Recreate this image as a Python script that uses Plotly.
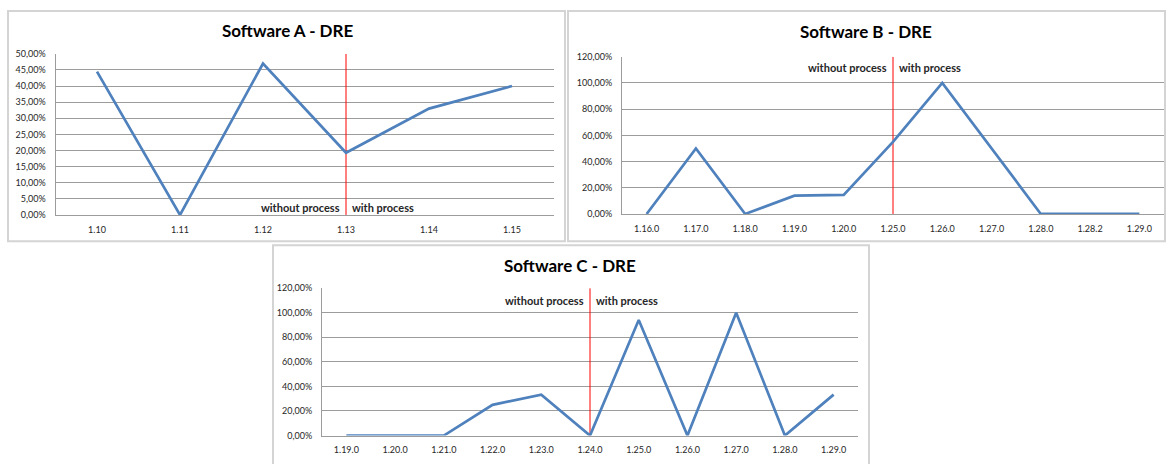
import plotly.graph_objects as go

W, H = 1166, 464
OFF = 0

# ---------------- data ----------------
cats_A = ["1.10", "1.11", "1.12", "1.13", "1.14", "1.15"]
dre_A = [44.5, 0.0, 47.0, 19.3, 33.0, 40.0]
split_A = "1.13"
yvals_A = [0, 5, 10, 15, 20, 25, 30, 35, 40, 45, 50]
ytext_A = ["0,00%", "5,00%", "10,00%", "15,00%", "20,00%", "25,00%",
           "30,00%", "35,00%", "40,00%", "45,00%", "50,00%"]

cats_B = ["1.16.0", "1.17.0", "1.18.0", "1.19.0", "1.20.0", "1.25.0",
          "1.26.0", "1.27.0", "1.28.0", "1.28.2", "1.29.0"]
dre_B = [0.0, 50.0, 0.0, 14.0, 14.5, 55.0, 100.0, 50.0, 0.0, 0.0, 0.0]
split_B = "1.25.0"

cats_C = ["1.19.0", "1.20.0", "1.21.0", "1.22.0", "1.23.0", "1.24.0",
          "1.25.0", "1.26.0", "1.27.0", "1.28.0", "1.29.0"]
dre_C = [0.0, 0.0, 0.0, 25.0, 33.3, 0.0, 94.0, 0.0, 100.0, 0.0, 33.3]
split_C = "1.24.0"

yvals_BC = [0, 20, 40, 60, 80, 100, 120]
ytext_BC = ["0,00%", "20,00%", "40,00%", "60,00%", "80,00%", "100,00%", "120,00%"]

titles = ["Software A - DRE", "Software B - DRE", "Software C - DRE"]
label_before = "without process"
label_after = "with process"

# ---------------- layout helpers ----------------
FONT = "Lato, 'Open Sans', sans-serif"
BLUE = "#4f81bd"
RED = "#ff0000"
GRID = "#9c9c9c"
TXT = "#262626"


def fx(px):
    return (px - OFF) / W


def fy(py):
    return 1 - (py - OFF) / H


PAGE_R = OFF + W

panels = [
    dict(cats=cats_A, vals=dre_A, split=split_A, yv=yvals_A, yt=ytext_A,
         area=(55.5, 553.5, 49, 214), box=(8, 565, 5, 241), title=titles[0],
         tpos=(287, 25), ann_y=0.045),
    dict(cats=cats_B, vals=dre_B, split=split_B, yv=yvals_BC, yt=ytext_BC,
         area=(622, 1164, 52, 213), box=(568, 1165, 5, 241), title=titles[1],
         tpos=(866, 26), ann_y=0.933),
    dict(cats=cats_C, vals=dre_C, split=split_C, yv=yvals_BC, yt=ytext_BC,
         area=(322, 858, 289, 440), box=(273, 869, 245, 480), title=titles[2],
         tpos=(570, 266), ann_y=0.916),
]

fig = go.Figure()
shapes = []
annotations = []
layout_axes = {}

for i, p in enumerate(panels, start=1):
    xa = "x" if i == 1 else f"x{i}"
    ya = "y" if i == 1 else f"y{i}"
    xkey = "xaxis" if i == 1 else f"xaxis{i}"
    ykey = "yaxis" if i == 1 else f"yaxis{i}"
    l, r, t, b = p["area"]
    n = len(p["cats"])
    ymax = max(p["yv"])

    step = (r - l) / n
    r_vis = min(r, PAGE_R)
    xr_hi = -0.5 + (r_vis - l) / step

    fig.add_trace(go.Scatter(
        x=[p["split"], p["split"]], y=[0, ymax], mode="lines",
        line=dict(color=RED, width=1), xaxis=xa, yaxis=ya,
        showlegend=False, hoverinfo="skip"))

    fig.add_trace(go.Scatter(
        x=p["cats"], y=p["vals"], mode="lines",
        line=dict(color=BLUE, width=2.7), xaxis=xa, yaxis=ya,
        showlegend=False, hoverinfo="x+y", cliponaxis=False))

    layout_axes[xkey] = dict(
        domain=[fx(l), min(1, fx(r_vis))], anchor=ya, type="category",
        categoryorder="array", categoryarray=p["cats"],
        range=[-0.5, xr_hi], showgrid=False, zeroline=False,
        showline=True, linecolor=GRID, linewidth=1, ticks="",
        tickfont=dict(family=FONT, size=9, color=TXT),
        ticklabelstandoff=6, fixedrange=True)
    layout_axes[ykey] = dict(
        domain=[fy(b), fy(t)], anchor=xa, range=[0, ymax],
        tickvals=p["yv"], ticktext=p["yt"], showgrid=True,
        gridcolor=GRID, gridwidth=1, zeroline=False, showline=True,
        linecolor=GRID, linewidth=1, ticks="",
        tickfont=dict(family=FONT, size=9, color=TXT),
        ticklabelstandoff=7, fixedrange=True)

    bl, br, bt, bb = p["box"]
    shapes.append(dict(type="rect", xref="paper", yref="paper",
                       x0=fx(bl), x1=fx(br), y0=fy(bb), y1=fy(bt),
                       line=dict(color="#d4d4d4", width=2), layer="below"))
    si = p["cats"].index(p["split"])
    annotations.append(dict(x=si, y=p["ann_y"], xref=xa, yref=f"{ya} domain",
                            text=f"<b>{label_before}</b>", showarrow=False,
                            xanchor="right", yanchor="middle", xshift=-4,
                            font=dict(family=FONT, size=11, color=TXT)))
    annotations.append(dict(x=si, y=p["ann_y"], xref=xa, yref=f"{ya} domain",
                            text=f"<b>{label_after}</b>", showarrow=False,
                            xanchor="left", yanchor="middle", xshift=4,
                            font=dict(family=FONT, size=11, color=TXT)))
    tx, ty = p["tpos"]
    annotations.append(dict(x=fx(tx), y=fy(ty), xref="paper", yref="paper",
                            text=f"<b>{p['title']}</b>", showarrow=False,
                            xanchor="center", yanchor="middle",
                            font=dict(family=FONT, size=17, color="#000000")))

fig.update_layout(
    width=W, height=H, margin=dict(l=0, r=0, t=0, b=0),
    paper_bgcolor="white", plot_bgcolor="white",
    shapes=shapes, annotations=annotations, showlegend=False,
    **layout_axes)

fig.write_html(
    "out.html", config={"displayModeBar": False},
    post_script="document.body.style.margin='0';"
                "document.documentElement.style.overflow='hidden';"
                "document.body.style.overflow='hidden';")
